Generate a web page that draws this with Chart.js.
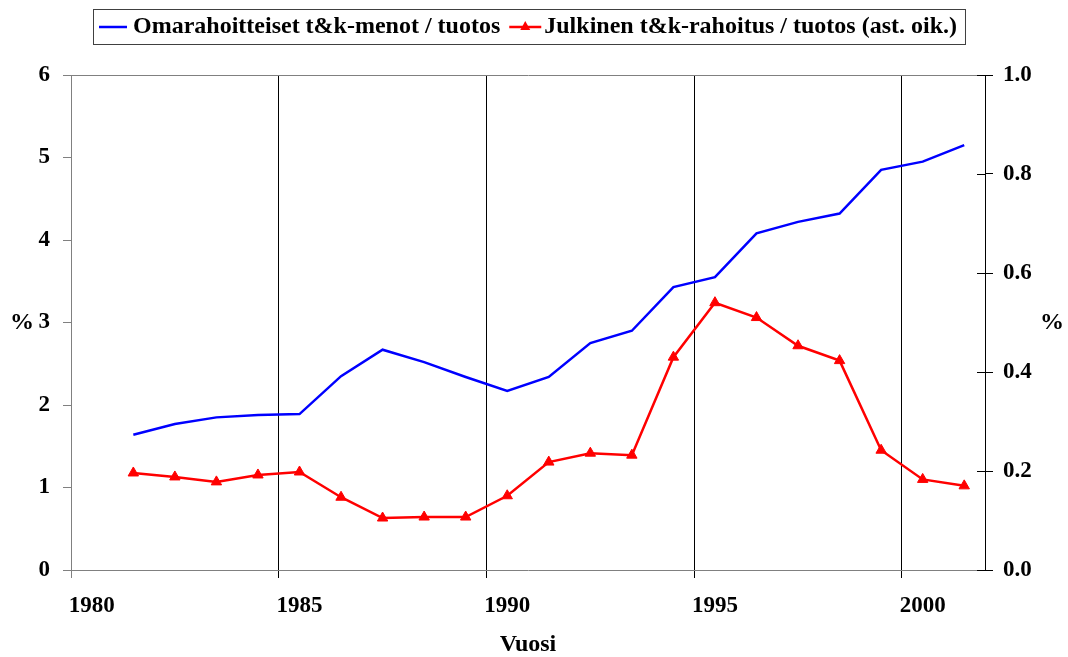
<!DOCTYPE html>
<html lang="fi">
<head>
<meta charset="UTF-8">
<title>T&amp;K-menot / tuotos</title>
<script src="https://cdn.jsdelivr.net/npm/chart.js"></script>
<style>
  html, body { margin: 0; padding: 0; background: #fff; }
</style>
</head>
<body>
<canvas id="chart" width="1068" height="657"></canvas>
<script>
  // categories (1980 has no data)
  const years = ['1980', '1981', '1982', '1983', '1984', '1985', '1986', '1987', '1988', '1989', '1990',
                 '1991', '1992', '1993', '1994', '1995', '1996', '1997', '1998', '1999', '2000', '2001'];

  // left axis, %
  const omarahoitteiset = [null, 1.64, 1.77, 1.85, 1.88, 1.89, 2.35, 2.67, 2.52, 2.34, 2.17,
                           2.34, 2.75, 2.90, 3.43, 3.55, 4.08, 4.22, 4.32, 4.85, 4.95, 5.15];

  // right axis, %
  const julkinen = [null, 0.196, 0.188, 0.178, 0.192, 0.198, 0.147, 0.105, 0.107, 0.107, 0.150,
                    0.218, 0.236, 0.232, 0.430, 0.540, 0.510, 0.453, 0.423, 0.242, 0.183, 0.170];

  const legendLabels = ['Omarahoitteiset t&k-menot / tuotos', 'Julkinen t&k-rahoitus / tuotos (ast. oik.)'];

  const FONT = '"Liberation Serif", "Times New Roman", serif';
  const tickFont = { family: FONT, size: 23, weight: 'bold' };
  const GRAY = '#808080';

  // legend, axis titles and the inner half of the right axis ticks
  const extras = {
    id: 'extras',
    afterDraw(chart) {
      const { ctx, chartArea, scales } = chart;
      ctx.save();

      // right axis ticks cross the axis line
      ctx.strokeStyle = '#000';
      ctx.lineWidth = 1;
      scales.y1.ticks.forEach(t => {
        const py = Math.round(scales.y1.getPixelForValue(t.value)) + 0.5;
        ctx.beginPath();
        ctx.moveTo(chartArea.right - 8, py);
        ctx.lineTo(chartArea.right, py);
        ctx.stroke();
      });

      // axis titles
      ctx.fillStyle = '#000';
      ctx.font = 'bold 24px ' + FONT;
      ctx.textAlign = 'center';
      ctx.textBaseline = 'middle';
      const midY = scales.y.getPixelForValue(3);
      ctx.fillText('%', chartArea.left - 49, midY);
      ctx.fillText('%', chartArea.right + 67, midY);
      ctx.fillText('Vuosi', (chartArea.left + chartArea.right) / 2, chartArea.bottom + 75);

      // legend box
      ctx.textAlign = 'left';
      const ly = 27;
      let x = chartArea.left + 22;
      const boxLeft = x;
      x += 6;
      ctx.strokeStyle = '#0000ff';
      ctx.lineWidth = 2.5;
      ctx.beginPath(); ctx.moveTo(x, ly); ctx.lineTo(x + 28, ly); ctx.stroke();
      x += 34;
      ctx.fillText(legendLabels[0], x, ly);
      x += ctx.measureText(legendLabels[0]).width + 9;
      ctx.strokeStyle = '#ff0000';
      ctx.beginPath(); ctx.moveTo(x, ly); ctx.lineTo(x + 32, ly); ctx.stroke();
      ctx.fillStyle = '#ff0000';
      ctx.beginPath();
      ctx.moveTo(x + 16, ly - 6);
      ctx.lineTo(x + 21, ly + 3);
      ctx.lineTo(x + 11, ly + 3);
      ctx.closePath();
      ctx.fill();
      x += 35;
      ctx.fillStyle = '#000';
      ctx.fillText(legendLabels[1], x, ly);
      x += ctx.measureText(legendLabels[1]).width + 8;
      ctx.strokeStyle = '#404040';
      ctx.lineWidth = 1;
      ctx.strokeRect(boxLeft + 0.5, 9.5, x - boxLeft, 35);

      ctx.restore();
    }
  };

  new Chart(document.getElementById('chart'), {
    type: 'line',
    data: {
      labels: years,
      datasets: [
        {
          label: legendLabels[0],
          data: omarahoitteiset,
          yAxisID: 'y',
          borderColor: '#0000ff',
          backgroundColor: '#0000ff',
          borderWidth: 2.5,
          pointRadius: 0,
          tension: 0
        },
        {
          label: legendLabels[1],
          data: julkinen,
          yAxisID: 'y1',
          borderColor: '#ff0000',
          backgroundColor: '#ff0000',
          borderWidth: 2.5,
          pointStyle: 'triangle',
          pointRadius: 6,
          pointBorderWidth: 1,
          tension: 0
        }
      ]
    },
    options: {
      responsive: false,
      animation: false,
      layout: { padding: { top: 75, left: 0, right: 0, bottom: 0 } },
      plugins: {
        legend: { display: false },
        tooltip: { enabled: false }
      },
      scales: {
        x: {
          type: 'category',
          offset: true,
          afterFit: s => { s.height = 87; },
          border: { color: GRAY },
          grid: {
            offset: true,
            drawOnChartArea: true,
            tickLength: 8,
            color: c => (c.tick && c.index % 5 === 0) ? (c.index === 0 ? GRAY : '#000') : 'rgba(0,0,0,0)',
            tickColor: c => (c.tick && c.index % 5 === 0) ? (c.index === 0 ? GRAY : '#000') : 'rgba(0,0,0,0)'
          },
          ticks: {
            autoSkip: false,
            maxRotation: 0,
            padding: 14,
            color: '#000',
            font: tickFont,
            callback: (v, i) => (i % 5 === 0 ? years[i] : '')
          }
        },
        y: {
          position: 'left',
          min: 0,
          max: 6,
          afterFit: s => { s.width = 71; },
          border: { color: GRAY },
          grid: {
            drawOnChartArea: true,
            tickLength: 8,
            color: c => (c.tick && c.tick.value === 6 ? GRAY : 'rgba(0,0,0,0)'),
            tickColor: GRAY
          },
          ticks: { stepSize: 1, padding: 13, color: '#000', font: tickFont }
        },
        y1: {
          position: 'right',
          min: 0,
          max: 1,
          afterFit: s => { s.width = 83; },
          border: { color: '#000' },
          grid: { drawOnChartArea: false, tickLength: 8, tickColor: '#000' },
          ticks: {
            stepSize: 0.2,
            padding: 10,
            color: '#000',
            font: tickFont,
            callback: v => v.toFixed(1)
          }
        }
      }
    },
    plugins: [extras]
  });
</script>
</body>
</html>
